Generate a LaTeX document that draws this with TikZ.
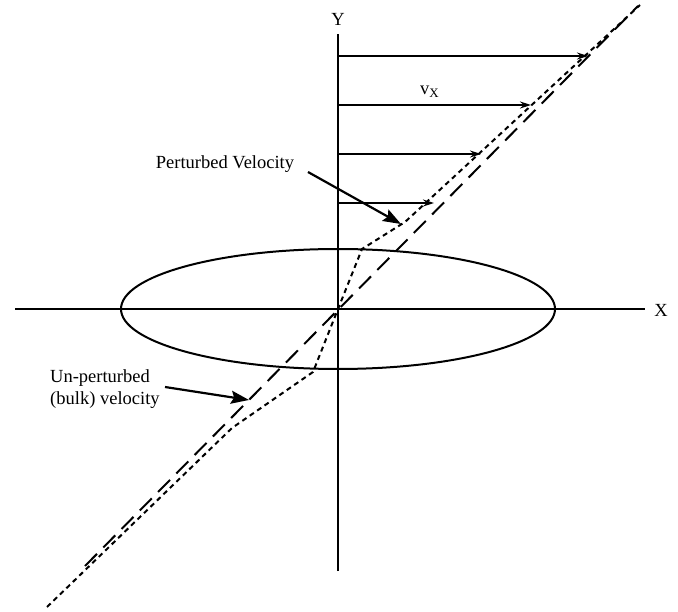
\documentclass[tikz,border=0pt]{standalone}
\usepackage{fontspec}
\setmainfont{Liberation Serif}
\usetikzlibrary{arrows.meta}
\begin{document}
\begin{tikzpicture}[x=1pt,y=-1pt,
  axis/.style={line width=2.2pt},
  vel/.style={line width=1.5pt,-{Stealth[length=11pt,width=7pt]}},
  callout/.style={line width=2.2pt,-{Stealth[length=18pt,width=13pt,inset=3pt]}},
  bulk/.style={line width=2pt,dash pattern=on 17pt off 9pt},
  pert/.style={line width=2pt,dash pattern=on 5pt off 4pt},
  lbl/.style={font=\fontsize{18.5}{22}\selectfont,inner sep=0pt}]
\useasboundingbox (0,0) rectangle (678,612);
% axes
\coordinate (o) at (338,309);
\coordinate (ytop) at (338,34);
\coordinate (ybot) at (338,571);
\coordinate (xl) at (15,309);
\coordinate (xr) at (645,309);
\draw[axis] (ybot) -- (ytop);
\draw[axis] (xl) -- (xr);
\node[lbl] (ylab) at (338,19) {Y};
\node[lbl] (xlab) at (661,310) {X};
% ellipse
\draw[line width=2pt] (o) ellipse [x radius=217, y radius=60];
% velocity arrows
\coordinate (a1s) at (338,56);  \coordinate (a1e) at (588,56);
\coordinate (a2s) at (338,105); \coordinate (a2e) at (531,105);
\coordinate (a3s) at (338,154); \coordinate (a3e) at (481,154);
\coordinate (a4s) at (338,203); \coordinate (a4e) at (434,203);
\draw[vel] (a1s) -- (a1e);
\draw[vel] (a2s) -- (a2e);
\draw[vel] (a3s) -- (a3e);
\draw[vel] (a4s) -- (a4e);
\node[lbl,anchor=base west] (vx) at (420,95) {v\textsubscript{X}};
% unperturbed (bulk) velocity
\coordinate (b1) at (85,566);
\coordinate (b2) at (638,6);
\draw[bulk] (b1) -- (b2);
% perturbed velocity
\coordinate (p1) at (47,607);
\coordinate (p2) at (232,428);
\coordinate (p3) at (313,372);
\coordinate (p4) at (362,249);
\coordinate (p5) at (405,222);
\coordinate (p6) at (640,5);
\draw[pert] (p1) -- (p2) -- (p3) -- (o) -- (p4) -- (p5) -- (p6);
% callouts
\node[lbl] (plab) at (225,164) {Perturbed Velocity};
\coordinate (pcs) at (308,172);
\coordinate (pce) at (401,224);
\draw[callout] (pcs) -- (pce);
\node[lbl,align=left,anchor=west] (ulab) at (50,389) {Un-perturbed\\(bulk) velocity};
\coordinate (ucs) at (165,387);
\coordinate (uce) at (249,400);
\draw[callout] (ucs) -- (uce);
\end{tikzpicture}
\end{document}
